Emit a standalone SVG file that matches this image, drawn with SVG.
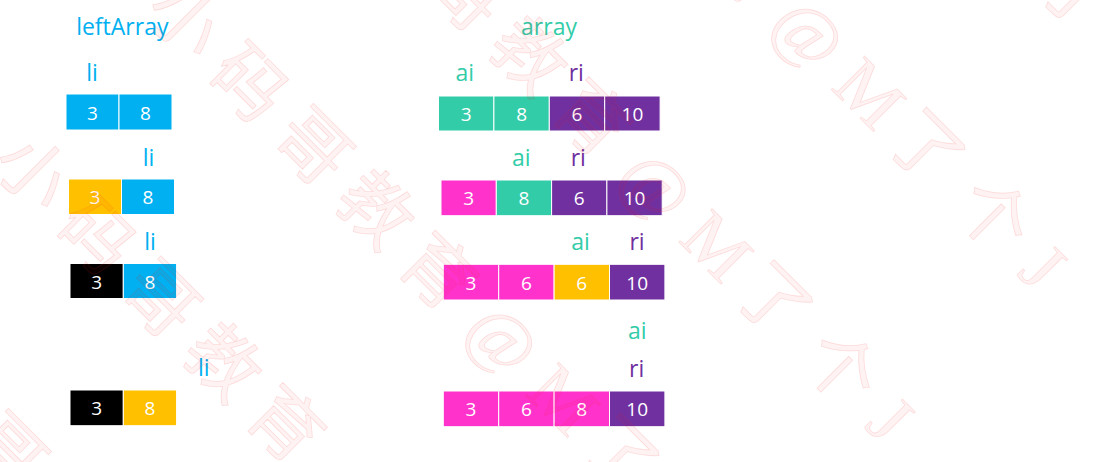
<svg xmlns="http://www.w3.org/2000/svg" width="1107" height="462" viewBox="0 0 1107 462">
<style>
.c{stroke:#fff;stroke-width:1}
.b{fill:#00B0F0}.t{fill:#33CCA9}.p{fill:#7030A0}.m{fill:#FF33CC}.y{fill:#FFC000}.k{fill:#000}
.n{font-family:"Open Sans","Noto Sans",sans-serif;font-size:19px;fill:#fff;text-anchor:middle}
.lb{font-family:"Open Sans","Noto Sans",sans-serif;font-size:23px;text-anchor:middle}
.wm{font-family:"Liberation Serif","Noto Sans CJK SC",serif;font-size:72px;text-anchor:middle;fill:#ff0000;fill-opacity:0.05;stroke:#f03030;stroke-opacity:0.15;stroke-width:0.8}
</style>
<rect width="1107" height="462" fill="#fff"/>

<g id="titles">
<text class="lb b" x="122.3" y="35">leftArray</text>
<text class="lb t" x="549" y="35">array</text>
</g>

<g id="pointers">
<text class="lb b" x="92" y="81">li</text>
<text class="lb b" x="148.5" y="166">li</text>
<text class="lb b" x="150" y="249.5">li</text>
<text class="lb b" x="203.7" y="376">li</text>
<text class="lb t" x="464.7" y="81">ai</text>
<text class="lb p" x="576.3" y="81">ri</text>
<text class="lb t" x="521.3" y="166">ai</text>
<text class="lb p" x="578.3" y="166">ri</text>
<text class="lb t" x="580.5" y="250">ai</text>
<text class="lb p" x="637" y="250">ri</text>
<text class="lb t" x="637.3" y="339.3">ai</text>
<text class="lb p" x="636.7" y="376.7">ri</text>
</g>

<g id="left-step1">
<g id="l1-0"><rect class="c b" x="66" y="94" width="53" height="36"/><text class="n" x="92.5" y="119.5">3</text></g>
<g id="l1-1"><rect class="c b" x="119" y="94" width="53" height="36"/><text class="n" x="145.5" y="119.5">8</text></g>
</g>
<g id="left-step2">
<g id="l2-0"><rect class="c y" x="68.5" y="179" width="53" height="35.5"/><text class="n" x="95" y="204">3</text></g>
<g id="l2-1"><rect class="c b" x="121.5" y="179" width="53" height="35.5"/><text class="n" x="148" y="204">8</text></g>
</g>
<g id="left-step3">
<g id="l3-0"><rect class="c k" x="70" y="263.5" width="53.3" height="35"/><text class="n" x="96.7" y="288.5">3</text></g>
<g id="l3-1"><rect class="c b" x="123.3" y="263.5" width="53.3" height="35"/><text class="n" x="150" y="288.5">8</text></g>
</g>
<g id="left-step4">
<g id="l4-0"><rect class="c k" x="70" y="390" width="53.3" height="35.7"/><text class="n" x="96.7" y="415.4">3</text></g>
<g id="l4-1"><rect class="c y" x="123.3" y="390" width="53.3" height="35.7"/><text class="n" x="150" y="415.4">8</text></g>
</g>

<g id="array-step1">
<g id="a1-0"><rect class="c t" x="438.5" y="96" width="55.4" height="35"/><text class="n" x="466.2" y="121">3</text></g>
<g id="a1-1"><rect class="c t" x="493.9" y="96" width="55.4" height="35"/><text class="n" x="521.6" y="121">8</text></g>
<g id="a1-2"><rect class="c p" x="549.3" y="96" width="55.4" height="35"/><text class="n" x="577" y="121">6</text></g>
<g id="a1-3"><rect class="c p" x="604.7" y="96" width="55.4" height="35"/><text class="n" x="632.4" y="121">10</text></g>
</g>
<g id="array-step2">
<g id="a2-0"><rect class="c m" x="441" y="180" width="55.3" height="35.7"/><text class="n" x="468.7" y="205.4">3</text></g>
<g id="a2-1"><rect class="c t" x="496.3" y="180" width="55.3" height="35.7"/><text class="n" x="524" y="205.4">8</text></g>
<g id="a2-2"><rect class="c p" x="551.6" y="180" width="55.3" height="35.7"/><text class="n" x="579.3" y="205.4">6</text></g>
<g id="a2-3"><rect class="c p" x="606.9" y="180" width="55.3" height="35.7"/><text class="n" x="634.6" y="205.4">10</text></g>
</g>
<g id="array-step3">
<g id="a3-0"><rect class="c m" x="443.3" y="264.3" width="55.4" height="35.7"/><text class="n" x="471" y="289.6">3</text></g>
<g id="a3-1"><rect class="c m" x="498.7" y="264.3" width="55.4" height="35.7"/><text class="n" x="526.4" y="289.6">6</text></g>
<g id="a3-2"><rect class="c y" x="554.1" y="264.3" width="55.4" height="35.7"/><text class="n" x="581.8" y="289.6">6</text></g>
<g id="a3-3"><rect class="c p" x="609.5" y="264.3" width="55.4" height="35.7"/><text class="n" x="637.2" y="289.6">10</text></g>
</g>
<g id="array-step4">
<g id="a4-0"><rect class="c m" x="443.3" y="391" width="55.4" height="35.7"/><text class="n" x="471" y="416.3">3</text></g>
<g id="a4-1"><rect class="c m" x="498.7" y="391" width="55.4" height="35.7"/><text class="n" x="526.4" y="416.3">6</text></g>
<g id="a4-2"><rect class="c m" x="554.1" y="391" width="55.4" height="35.7"/><text class="n" x="581.8" y="416.3">8</text></g>
<g id="a4-3"><rect class="c p" x="609.5" y="391" width="55.4" height="35.7"/><text class="n" x="637.2" y="416.3">10</text></g>
</g>

<g id="connectors"/>

<g id="watermark" transform="rotate(45)">
<text class="wm" x="325" y="339.5">哥</text>
<text class="wm" x="145 235 325 414 502" y="123.9">小码哥教育</text>
<text class="wm" x="145 235 325 414 502 595 681 760" y="-91.8">小码哥教育@M了</text>
<text class="wm" x="325 414 502 595 681 760 855 926" y="-308.9">哥教育@M了个J</text>
<text class="wm" x="502 595 681 760 855 926" y="-524.5">育@M了个J</text>
<text class="wm" x="760" y="-740.2">了</text>
</g>
</svg>
